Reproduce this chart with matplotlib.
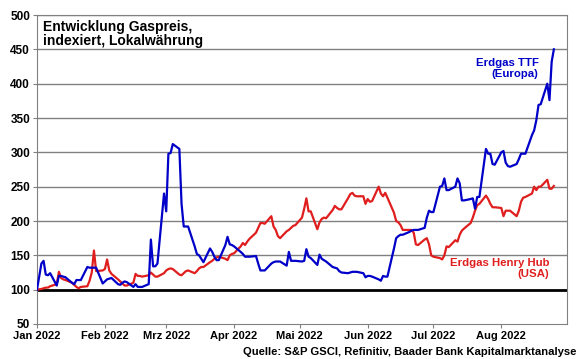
import matplotlib
matplotlib.use('Agg')
import matplotlib.pyplot as plt
import numpy as np
import pandas as pd

plt.rcParams['font.family'] = ['Liberation Sans', 'DejaVu Sans']
plt.rcParams['font.weight'] = 'bold'

# index start 1.1.2022 = 100, then business days Jan 3 .. Aug 25 2022
dates = [pd.Timestamp('2022-01-01')] + list(pd.bdate_range('2022-01-03', '2022-08-25'))

ttf_jan = [138, 142, 122, 121, 124, 106, 120, 120, 119, 118, 110, 108, 114, 114, 114, 133, 132, 132, 132, 132, 109]
ttf_feb = [112, 115, 116, 117, 108, 107, 110, 112, 111, 104, 108, 104, 104, 104, 108, 173, 134, 134, 138, 240]
ttf_mar = [214, 298, 299, 312, 305, 225, 192, 192, 192, 163, 152, 150, 145, 140, 160, 155, 148, 143, 143, 165, 177, 166, 165]
ttf_apr = [163, 155, 152, 148, 148, 148, 149, 138, 128, 128, 128, 138, 140, 141, 141, 141, 135, 155, 142, 142, 142]
ttf_mai = [141, 142, 159, 148, 146, 136, 151, 145, 143, 141, 133, 132, 131, 127, 125, 124, 125, 126, 126, 126, 124, 118]
ttf_jun = [120, 120, 119, 115, 113, 120, 119, 119, 160, 175, 178, 180, 180, 184, 186, 187, 187, 187, 190, 205, 215, 213]
ttf_jul = [213, 250, 251, 262, 245, 245, 250, 262, 255, 230, 230, 232, 233, 218, 235, 235, 305, 298, 298, 283, 282]
ttf_aug = [300, 302, 285, 280, 279, 283, 290, 298, 298, 298, 325, 332, 347, 369, 370, 400, 376, 432, 450]

hh_jan = [101, 102, 103, 103, 105, 108, 126, 117, 115, 114, 110, 107, 104, 102, 104, 105, 113, 125, 157, 127, 128]
hh_feb = [130, 144, 128, 123, 115, 112, 109, 106, 106, 110, 123, 120, 120, 119, 121, 125, 122, 119, 119, 124]
hh_mar = [128, 130, 131, 130, 122, 121, 124, 127, 128, 124, 127, 131, 133, 133, 140, 142, 145, 147, 148, 145, 143, 150, 152]
hh_apr = [153, 163, 168, 165, 170, 174, 183, 190, 197, 197, 196, 207, 192, 187, 178, 175, 185, 187, 190, 193, 194]
hh_mai = [205, 218, 233, 214, 214, 188, 198, 203, 205, 204, 216, 222, 219, 217, 217, 233, 239, 241, 237, 236, 236, 225]
hh_jun = [232, 228, 229, 250, 240, 236, 241, 234, 212, 200, 198, 194, 187, 187, 187, 183, 166, 165, 173, 175, 166, 150]
hh_jul = [148, 146, 144, 150, 163, 162, 172, 170, 180, 186, 189, 197, 205, 215, 223, 225, 237, 232, 225, 220, 220]
hh_aug = [219, 207, 215, 215, 215, 207, 215, 228, 234, 235, 240, 250, 245, 250, 250, 260, 247, 247, 251]

ttf = [100] + ttf_jan + ttf_feb + ttf_mar + ttf_apr + ttf_mai + ttf_jun + ttf_jul + ttf_aug
henry_hub = [100] + hh_jan + hh_feb + hh_mar + hh_apr + hh_mai + hh_jun + hh_jul + hh_aug

month_ticks = pd.date_range('2022-01-01', '2022-08-01', freq='MS')
month_labels = ['Jan 2022', 'Feb 2022', 'Mrz 2022', 'Apr 2022', 'Mai 2022', 'Jun 2022', 'Jul 2022', 'Aug 2022']

blue = '#0000C8'
red = '#E01E1E'

fig = plt.figure(figsize=(5.8, 3.59), dpi=100, facecolor='white')
ax = fig.add_axes([37/580, 1-324/359, (567-37)/580, (324-15)/359])

for v in range(150, 501, 50):
    ax.axhline(v, color='#808080', lw=1, zorder=1)
ax.axhline(100, color='black', lw=2, zorder=2)

ax.plot(dates, henry_hub, color=red, lw=1.6, zorder=3)
ax.plot(dates, ttf, color=blue, lw=1.6, zorder=4)

ax.set_ylim(50, 500)
ax.set_yticks(range(50, 501, 50))
ax.set_xlim(pd.Timestamp('2022-01-01'), pd.Timestamp('2022-08-31'))
ax.set_xticks(month_ticks)
ax.set_xticklabels(month_labels)
ax.tick_params(axis='both', labelsize=8, length=3, color='#808080', pad=2)
ax.tick_params(axis='y', labelsize=8.5)
for s in ax.spines.values():
    s.set_color('#808080')

ax.text(0.012, 0.985, 'Entwicklung Gaspreis,\nindexiert, Lokalwährung', transform=ax.transAxes,
        ha='left', va='top', fontsize=10, fontweight='bold', linespacing=1.05)

ax.text(pd.Timestamp('2022-08-18'), 437, 'Erdgas TTF\n(Europa)', color=blue, ha='right', va='top',
        fontsize=8.2, fontweight='bold', linespacing=1.1)
ax.text(pd.Timestamp('2022-08-23'), 146, 'Erdgas Henry Hub\n(USA)', color=red, ha='right', va='top',
        fontsize=8.2, fontweight='bold', linespacing=1.1)

fig.text(576/580, 1-352/359, 'Quelle: S&P GSCI, Refinitiv, Baader Bank Kapitalmarktanalyse',
         ha='right', va='center', fontsize=8.1, fontweight='bold')

plt.savefig('out.png', dpi=100, facecolor='white')
